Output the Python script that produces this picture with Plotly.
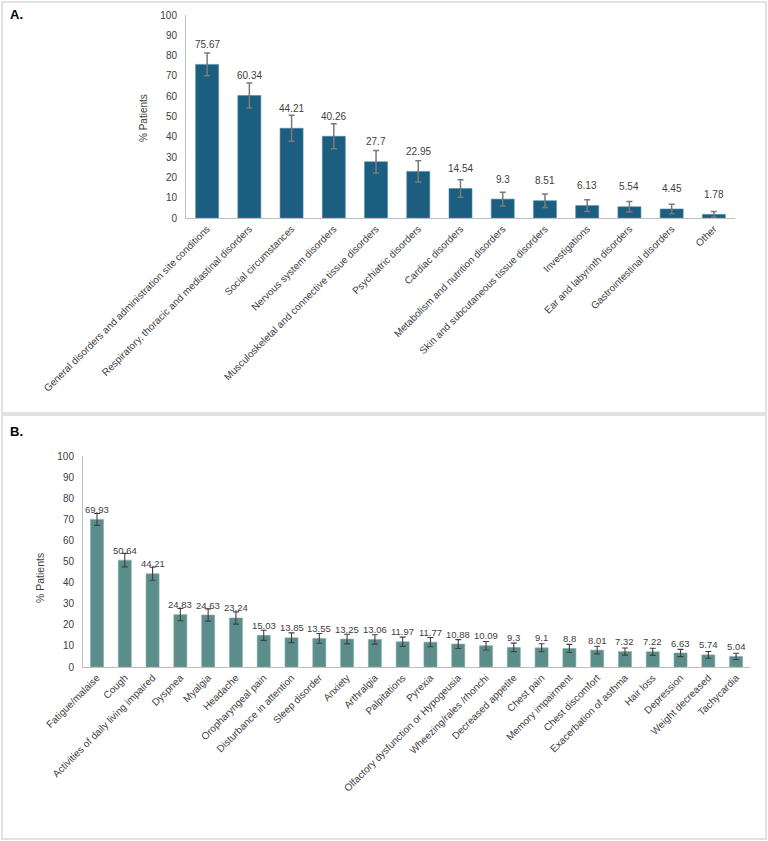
import plotly.graph_objects as go

# Panel A data
a_categories = [
    "General disorders and administration site conditions",
    "Respiratory, thoracic and mediastinal disorders",
    "Social circumstances",
    "Nervous system disorders",
    "Musculoskeletal and connective tissue disorders",
    "Psychiatric disorders",
    "Cardiac disorders",
    "Metabolism and nutrition disorders",
    "Skin and subcutaneous tissue disorders",
    "Investigations",
    "Ear and labyrinth disorders",
    "Gastrointestinal disorders",
    "Other",
]
a_values = [75.67, 60.34, 44.21, 40.26, 27.7, 22.95, 14.54, 9.3, 8.51, 6.13, 5.54, 4.45, 1.78]
a_errors = [5.6, 6.2, 6.4, 6.2, 5.5, 5.2, 4.3, 3.4, 3.3, 2.9, 2.6, 2.3, 1.4]

# Panel B data
b_categories = [
    "Fatigue/malaise", "Cough", "Activities of daily living impaired", "Dyspnea",
    "Myalgia", "Headache", "Oropharyngeal pain", "Disturbance in attention",
    "Sleep disorder", "Anxiety", "Arthralgia", "Palpitations", "Pyrexia",
    "Olfactory dysfunction or Hypogeusia", "Wheezing/rales /rhonchi",
    "Decreased appetite", "Chest pain", "Memory impairment", "Chest discomfort",
    "Exacerbation of asthma", "Hair loss", "Depression", "Weight decreased",
    "Tachycardia",
]
b_values = [69.93, 50.64, 44.21, 24.83, 24.63, 23.24, 15.03, 13.85, 13.55, 13.25,
            13.06, 11.97, 11.77, 10.88, 10.09, 9.3, 9.1, 8.8, 8.01, 7.32, 7.22,
            6.63, 5.74, 5.04]
b_errors = [2.8, 3.2, 3.1, 2.9, 2.9, 2.9, 2.4, 2.3, 2.3, 2.3, 2.2, 2.2, 2.2, 2.1,
            2.0, 2.0, 1.9, 1.9, 1.8, 1.7, 1.7, 1.7, 1.6, 1.5]

y_ticks = [0, 10, 20, 30, 40, 50, 60, 70, 80, 90, 100]

W, H = 768, 841
FONT = "Liberation Sans, Arial, sans-serif"
TXT = "#404040"
AXC = "#bfbfbf"


def px_x(p):
    return p / W


def px_y(p):
    return 1 - p / H


fig = go.Figure()

fig.add_trace(go.Bar(
    x=a_categories, y=a_values, xaxis="x", yaxis="y",
    marker=dict(color="#1b5e80", line=dict(color="#4f8aa8", width=0.6)),
    error_y=dict(type="data", array=a_errors, visible=True, color="#7a7a7a",
                 thickness=1.5, width=3),
    hoverinfo="x+y", showlegend=False,
))
fig.add_trace(go.Bar(
    x=b_categories, y=b_values, xaxis="x2", yaxis="y2",
    marker=dict(color="#5b8e8b", line=dict(color="#86aeab", width=0.6)),
    error_y=dict(type="data", array=b_errors, visible=True, color="#404040",
                 thickness=1.1, width=3),
    hoverinfo="x+y", showlegend=False,
))

annotations = []
for c, v in zip(a_categories, a_values):
    annotations.append(dict(x=c, y=v, xref="x", yref="y", text=f"{v:g}",
                            showarrow=False, yshift=20, yanchor="middle",
                            font=dict(family=FONT, size=10, color=TXT)))
for c, v in zip(b_categories, b_values):
    annotations.append(dict(x=c, y=v, xref="x2", yref="y2", text=f"{v:g}",
                            showarrow=False, yshift=10, yanchor="middle",
                            font=dict(family=FONT, size=9.5, color=TXT)))

annotations += [
    dict(x=px_x(8), y=px_y(14), xref="paper", yref="paper", text="<b>A.</b>",
         showarrow=False, xanchor="left", yanchor="middle",
         font=dict(family=FONT, size=13, color="#000000")),
    dict(x=px_x(8), y=px_y(431), xref="paper", yref="paper", text="<b>B.</b>",
         showarrow=False, xanchor="left", yanchor="middle",
         font=dict(family=FONT, size=13, color="#000000")),
    dict(x=px_x(143), y=px_y(118), xref="paper", yref="paper", text="% Patients",
         showarrow=False, textangle=-90, xanchor="center", yanchor="middle",
         font=dict(family=FONT, size=10, color=TXT)),
    dict(x=px_x(40), y=px_y(578), xref="paper", yref="paper", text="% Patients",
         showarrow=False, textangle=-90, xanchor="center", yanchor="middle",
         font=dict(family=FONT, size=10.5, color=TXT)),
]

shapes = [
    dict(type="rect", xref="paper", yref="paper",
         x0=px_x(2), x1=px_x(766), y0=px_y(413), y1=px_y(2),
         line=dict(color="#d9d9d9", width=1.5), fillcolor="rgba(0,0,0,0)"),
    dict(type="rect", xref="paper", yref="paper",
         x0=px_x(2), x1=px_x(766), y0=px_y(839), y1=px_y(415),
         line=dict(color="#d9d9d9", width=1.5), fillcolor="rgba(0,0,0,0)"),
]

common_y = dict(range=[0, 100], tickvals=y_ticks, showgrid=False, zeroline=False,
                showline=True, linecolor=AXC, linewidth=1, automargin=False,
                ticks="outside", ticklen=6, tickcolor="rgba(0,0,0,0)",
                tickfont=dict(family=FONT, size=10, color=TXT), fixedrange=True)
common_x = dict(showgrid=False, zeroline=False, showline=True, linecolor=AXC,
                linewidth=1.2, tickangle=-45, ticks="", fixedrange=True,
                automargin=False,
                tickfont=dict(family=FONT, size=10, color=TXT))

fig.update_layout(
    width=W, height=H,
    margin=dict(l=0, r=0, t=0, b=0, autoexpand=False),
    paper_bgcolor="white", plot_bgcolor="white",
    bargap=0.455,
    xaxis=dict(domain=[px_x(186), px_x(735)], anchor="y", **common_x),
    yaxis=dict(domain=[px_y(218), px_y(15)], anchor="x", **common_y),
    xaxis2=dict(domain=[px_x(83), px_x(750)], anchor="y2", **common_x),
    yaxis2=dict(domain=[px_y(667), px_y(456)], anchor="x2", **common_y),
    annotations=annotations,
    shapes=shapes,
    showlegend=False,
)
fig.data[1].update(width=0.47)

fig.write_html("out.html")
